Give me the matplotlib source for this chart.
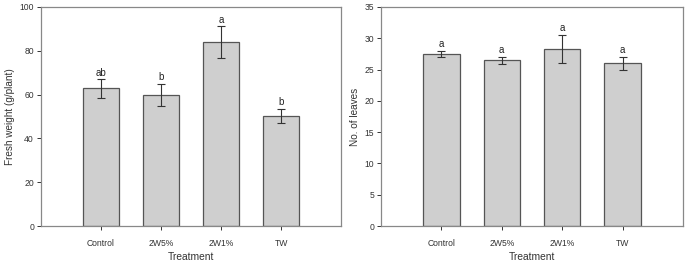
import matplotlib.pyplot as plt
import numpy as np

plt.rcParams['font.family'] = ['Liberation Sans', 'DejaVu Sans']

treatments = ['Control', '2W5%', '2W1%', 'TW']

fresh_weight = [62.8, 59.8, 84.0, 50.2]
fresh_err = [4.3, 5.2, 7.3, 3.3]
fresh_letters = ['ab', 'b', 'a', 'b']

leaves = [27.5, 26.5, 28.3, 26.0]
leaves_err = [0.5, 0.55, 2.3, 1.05]
leaves_letters = ['a', 'a', 'a', 'a']

W, H = 688, 264
fig = plt.figure(figsize=(W / 100, H / 100), dpi=100)

ax1 = fig.add_axes([41 / W, 38 / H, 300 / W, 219 / H])
ax2 = fig.add_axes([381 / W, 38 / H, 302 / W, 219 / H])


def draw(ax, vals, errs, letters, ymax, step, ylabel):
    x = np.arange(len(treatments))
    ax.bar(x, vals, width=0.6, color='#cfcfcf', edgecolor='#555555', linewidth=0.9, zorder=2)
    ax.errorbar(x, vals, yerr=errs, fmt='none', ecolor='#333333', elinewidth=0.8,
                capsize=3, capthick=0.8, zorder=3)
    for xi, v, e, t in zip(x, vals, errs, letters):
        ax.annotate(t, (xi, v + e), xytext=(0, 1), textcoords='offset points',
                    ha='center', va='bottom', fontsize=7, color='#222222')
    ax.set_xlim(-1, 4)
    ax.set_ylim(0, ymax)
    ax.set_yticks(np.arange(0, ymax + 0.01, step))
    ax.set_xticks(x)
    ax.set_xticklabels(treatments)
    ax.tick_params(direction='out', length=3, width=0.7, colors='#333333', labelsize=6.2)
    ax.tick_params(axis='x', pad=6)
    ax.tick_params(axis='y', pad=2)
    for s in ax.spines.values():
        s.set_color('#888888')
        s.set_linewidth(0.9)
    ax.set_xlabel('Treatment', fontsize=7.4, color='#333333', labelpad=3)
    ax.set_ylabel(ylabel, fontsize=7.2, color='#333333', labelpad=3)


draw(ax1, fresh_weight, fresh_err, fresh_letters, 100, 20, 'Fresh weight (g/plant)')
draw(ax2, leaves, leaves_err, leaves_letters, 35, 5, 'No. of leaves')

fig.savefig('out.png', dpi=100)
